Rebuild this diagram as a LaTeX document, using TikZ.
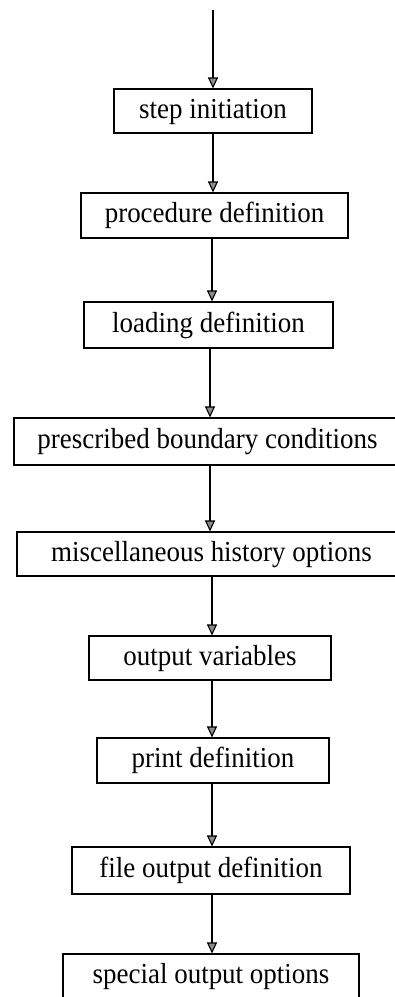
\documentclass[tikz,border=0pt]{standalone}
\usepackage{fontspec}
\setmainfont{Liberation Serif}
\usetikzlibrary{arrows.meta}
\newcommand{\narrowtxt}[1]{\scalebox{0.93}[1]{#1}}
\tikzset{
  stepbox/.style={draw, line width=1.1pt, inner sep=0pt, text height=20pt, text depth=6pt,
    font=\fontsize{29}{32}\selectfont},
  arr/.style={line width=1.1pt, -{Triangle[length=11pt, width=10pt, fill=black!45, line width=1.1pt]}}
}
\begin{document}
\begin{tikzpicture}[x=1pt, y=-1pt]
\useasboundingbox (0,0) rectangle (395,997);
\clip (0,0) rectangle (395,997);
\node[stepbox, minimum width=198pt, minimum height=44pt] (n1) at (213,111) {\narrowtxt{step initiation}};
\node[stepbox, minimum width=267pt, minimum height=45pt] (n2) at (214.5,215.5) {\narrowtxt{procedure definition}};
\node[stepbox, minimum width=249pt, minimum height=46pt] (n3) at (208.5,325) {\narrowtxt{loading definition}};
\node[stepbox, minimum width=387pt, minimum height=47pt] (n4) at (207.5,441.5) {\narrowtxt{prescribed boundary conditions}};
\node[stepbox, minimum width=389pt, minimum height=44pt] (n5) at (211.5,554) {\narrowtxt{miscellaneous history options}};
\node[stepbox, minimum width=242pt, minimum height=44pt] (n6) at (210,658) {\narrowtxt{output variables}};
\node[stepbox, minimum width=232pt, minimum height=45pt] (n7) at (213,760.5) {\narrowtxt{print definition}};
\node[stepbox, minimum width=278pt, minimum height=47pt] (n8) at (211,870.5) {\narrowtxt{file output definition}};
\node[stepbox, minimum width=296pt, minimum height=45pt] (n9) at (211,976.5) {\narrowtxt{special output options}};
\coordinate (start) at (213,10);
\draw[arr] (start) -- (n1.north -| start);
\draw[arr] (n1.south -| 213,0) -- (n2.north -| 213,0);
\draw[arr] (n2.south -| 212,0) -- (n3.north -| 212,0);
\draw[arr] (n3.south -| 210,0) -- (n4.north -| 210,0);
\draw[arr] (n4.south -| 210,0) -- (n5.north -| 210,0);
\draw[arr] (n5.south -| 212,0) -- (n6.north -| 212,0);
\draw[arr] (n6.south -| 212,0) -- (n7.north -| 212,0);
\draw[arr] (n7.south -| 212,0) -- (n8.north -| 212,0);
\draw[arr] (n8.south -| 212,0) -- (n9.north -| 212,0);
\end{tikzpicture}
\end{document}
